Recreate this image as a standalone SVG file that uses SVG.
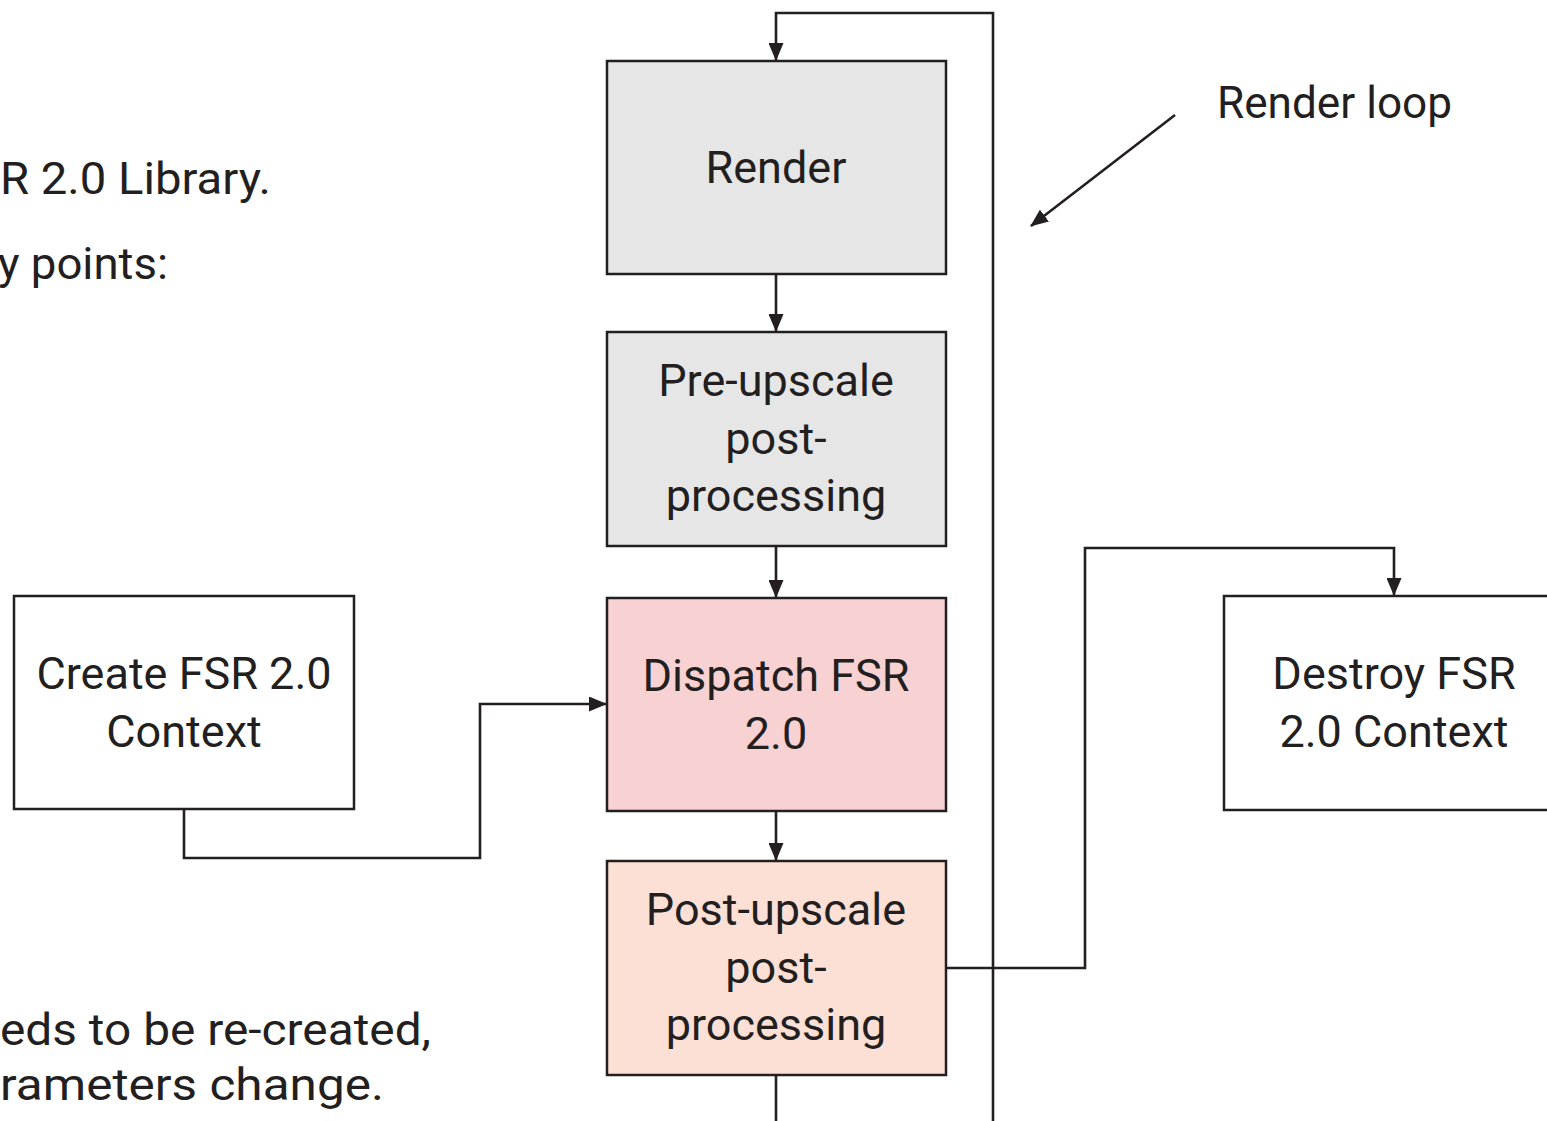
<svg xmlns="http://www.w3.org/2000/svg" width="1547" height="1121" viewBox="0 0 1547 1121">
<style>
.box{stroke:#231f20;stroke-width:2.5}
.t{font-family:Roboto,"Noto Sans",sans-serif;font-size:45px;fill:#231f20}
.c{text-anchor:middle}
.ln{fill:none;stroke:#231f20;stroke-width:2.6}
</style>
<defs>
<marker id="ah2" markerWidth="18" markerHeight="15" refX="17" refY="7.5" orient="auto" markerUnits="userSpaceOnUse" viewBox="0 0 18 15">
<path d="M0,0 L18,7.5 L0,15 z" fill="#231f20"/>
</marker>
</defs>
<rect width="1547" height="1121" fill="#ffffff"/>
<g id="side-text">
<text class="t" x="0" y="194" textLength="271" lengthAdjust="spacingAndGlyphs">R 2.0 Library.</text>
<text class="t" x="-2" y="279" textLength="170" lengthAdjust="spacingAndGlyphs">y points:</text>
<text class="t" x="0" y="1045" textLength="431" lengthAdjust="spacingAndGlyphs">eds to be re-created,</text>
<text class="t" x="0" y="1100" textLength="384" lengthAdjust="spacingAndGlyphs">rameters change.</text>
<text class="t" x="1217" y="118" textLength="235" lengthAdjust="spacingAndGlyphs">Render loop</text>
</g>
<g id="connectors">
<polyline class="ln" points="993,1121 993,13 776,13 776,60" marker-end="url(#ah2)"/>
<line class="ln" x1="776" y1="274" x2="776" y2="331" marker-end="url(#ah2)"/>
<line class="ln" x1="776" y1="546" x2="776" y2="597" marker-end="url(#ah2)"/>
<line class="ln" x1="776" y1="811" x2="776" y2="860" marker-end="url(#ah2)"/>
<line class="ln" x1="776" y1="1075" x2="776" y2="1121"/>
<polyline class="ln" points="184,809 184,858 480,858 480,704 606,704" marker-end="url(#ah2)"/>
<polyline class="ln" points="946,968 1085,968 1085,548 1394,548 1394,595" marker-end="url(#ah2)"/>
<line class="ln" x1="1175" y1="115" x2="1031" y2="226" marker-end="url(#ah2)"/>
</g>
<g id="render">
<rect class="box" x="607" y="61" width="339" height="213" fill="#e6e6e6"/>
<text class="t c" x="776" y="183">Render</text>
</g>
<g id="pre-upscale">
<rect class="box" x="607" y="332" width="339" height="214" fill="#e6e6e6"/>
<text class="t c" x="776" y="396">Pre-upscale</text>
<text class="t c" x="776" y="454">post-</text>
<text class="t c" x="776" y="511">processing</text>
</g>
<g id="dispatch">
<rect class="box" x="607" y="598" width="339" height="213" fill="#f8d1d3"/>
<text class="t c" x="776" y="691">Dispatch FSR</text>
<text class="t c" x="776" y="749">2.0</text>
</g>
<g id="post-upscale">
<rect class="box" x="607" y="861" width="339" height="214" fill="#fce0d5"/>
<text class="t c" x="776" y="925">Post-upscale</text>
<text class="t c" x="776" y="983">post-</text>
<text class="t c" x="776" y="1040">processing</text>
</g>
<g id="create">
<rect class="box" x="14" y="596" width="340" height="213" fill="#ffffff"/>
<text class="t c" x="184" y="689">Create FSR 2.0</text>
<text class="t c" x="184" y="747">Context</text>
</g>
<g id="destroy">
<rect class="box" x="1224" y="596" width="340" height="214" fill="#ffffff"/>
<text class="t c" x="1394" y="689">Destroy FSR</text>
<text class="t c" x="1394" y="747">2.0 Context</text>
</g>
</svg>
